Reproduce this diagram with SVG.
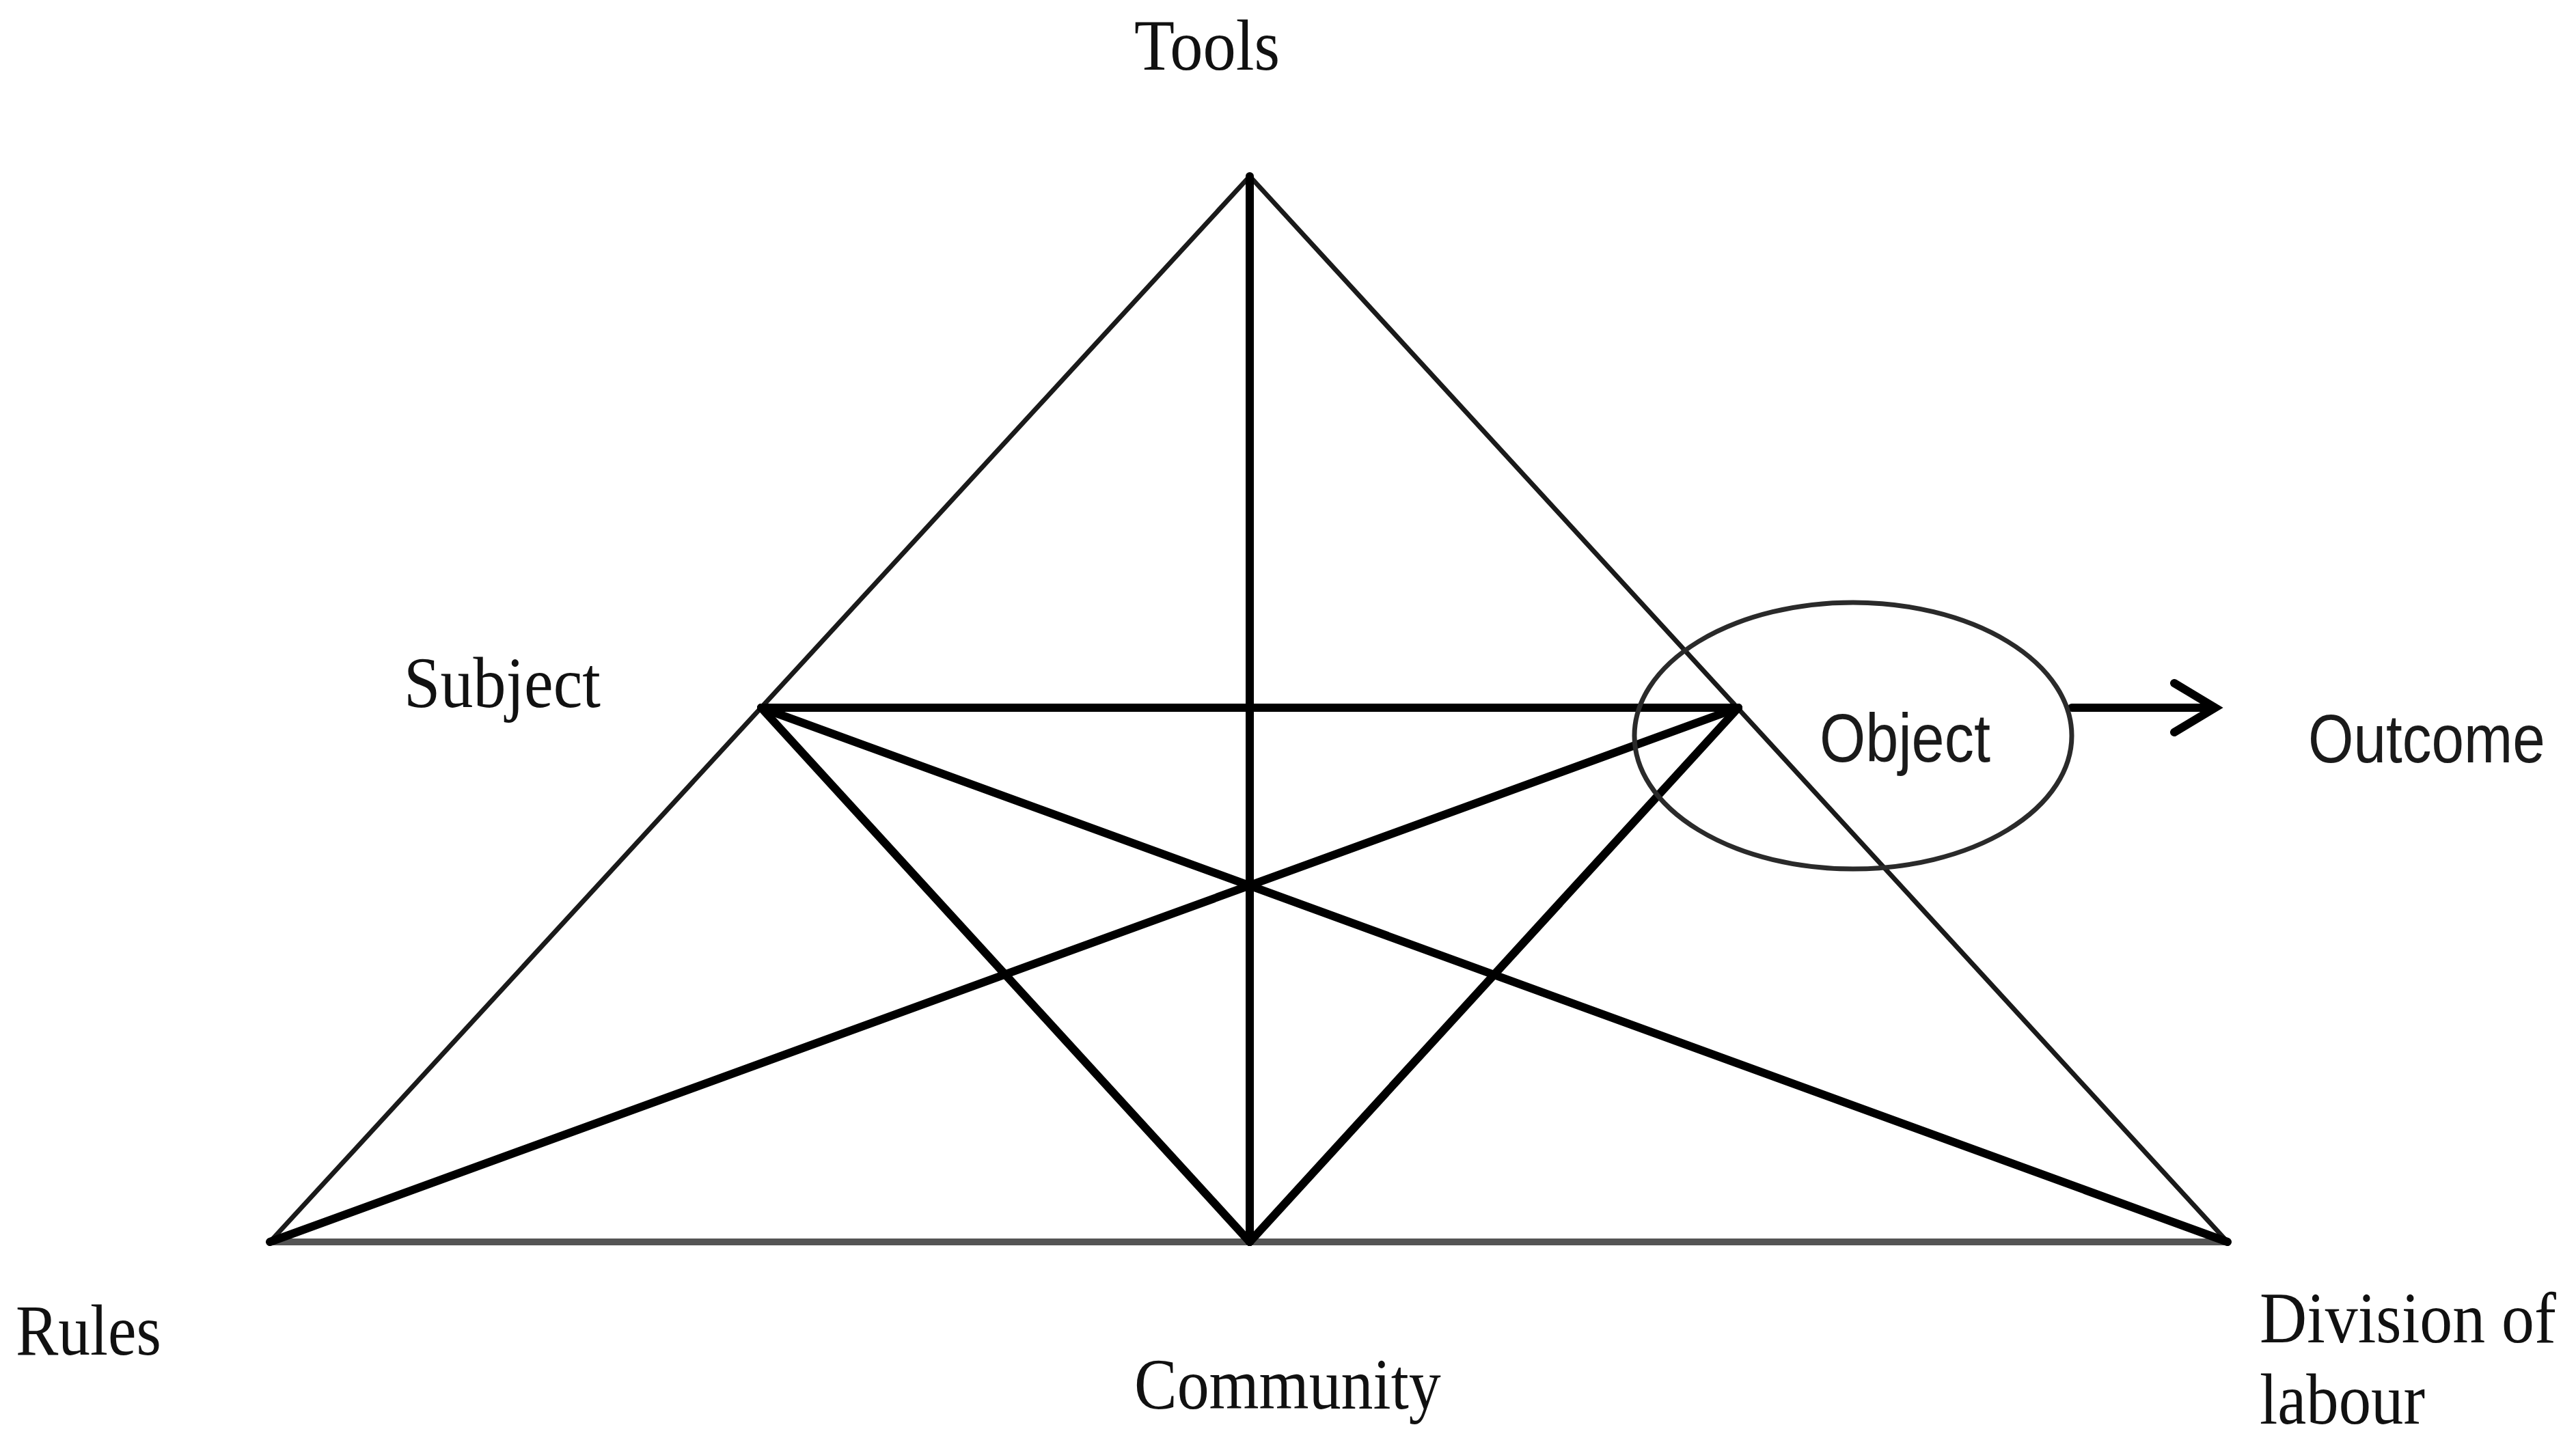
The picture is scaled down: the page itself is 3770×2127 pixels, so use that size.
<svg xmlns="http://www.w3.org/2000/svg" width="3770" height="2127" viewBox="0 0 3770 2127">
<style>
.bg{fill:#ffffff}
.thin{stroke:#1a1a1a;stroke-width:7;fill:none;stroke-linecap:round}
.base{stroke:#555555;stroke-width:10;fill:none}
.thick{stroke:#000000;stroke-width:12;fill:none;stroke-linecap:round}
.ell{stroke:#2a2a2a;stroke-width:7;fill:none}
.serif{font-family:"Liberation Serif","Times New Roman",serif;font-size:106px;fill:#111111}
.sans{font-family:"Liberation Sans",Arial,sans-serif;font-size:100px;fill:#1a1a1a}
</style>
<rect class="bg" x="0" y="0" width="3770" height="2127"/>
<g id="connectors">
<line class="base" x1="395" y1="1818" x2="3260" y2="1818"/>
<line class="thin" x1="395" y1="1818" x2="1829" y2="258"/>
<line class="thin" x1="1829" y1="258" x2="3260" y2="1818"/>
<line class="thick" x1="1829" y1="258" x2="1829" y2="1818"/>
<line class="thick" x1="1114" y1="1036" x2="2544" y2="1036"/>
<line class="thick" x1="1114" y1="1036" x2="1829" y2="1818"/>
<line class="thick" x1="2544" y1="1036" x2="1829" y2="1818"/>
<line class="thick" x1="1114" y1="1036" x2="3260" y2="1818"/>
<line class="thick" x1="2544" y1="1036" x2="395" y2="1818"/>
<line class="thick" x1="3032" y1="1036" x2="3236" y2="1036"/>
<polyline class="thick" points="3182,1000 3242,1036 3182,1072" stroke-width="14" stroke-linejoin="miter"/>
</g>
<g id="node-tools"><text class="serif" transform="translate(1660 102) scale(0.911 1)">Tools</text></g>
<g id="node-subject"><text class="serif" transform="translate(591 1035) scale(0.906 1)">Subject</text></g>
<g id="node-object">
<ellipse class="ell" cx="2712" cy="1077" rx="320" ry="195"/>
<text class="sans" transform="translate(2663 1115) scale(0.865 1)">Object</text>
</g>
<g id="node-outcome"><text class="sans" transform="translate(3378 1116) scale(0.855 1)">Outcome</text></g>
<g id="node-rules"><text class="serif" transform="translate(23 1983) scale(0.882 1)">Rules</text></g>
<g id="node-community"><text class="serif" transform="translate(1660 2062) scale(0.886 1)">Community</text></g>
<g id="node-division">
<text class="serif" transform="translate(3307 1965) scale(0.904 1)">Division of</text>
<text class="serif" transform="translate(3307 2084) scale(0.894 1)">labour</text>
</g>
</svg>
